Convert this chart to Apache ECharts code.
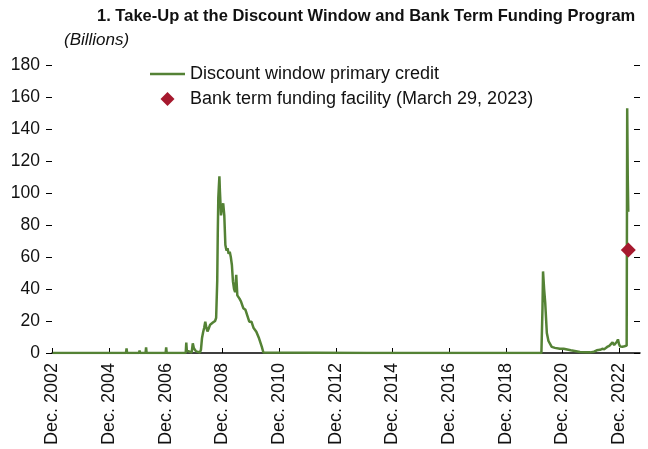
<!DOCTYPE html>
<html><head><meta charset="utf-8">
<script src="https://cdn.jsdelivr.net/npm/echarts@6/dist/echarts.min.js"></script>
<style>html,body{margin:0;padding:0;background:#fff}#c{width:648px;height:449px}</style>
</head><body><div id="c"></div>
<script>
// Discount window primary credit (billions)
const dwDates = [
  '2002-12-04','2003-06-04','2003-10-01','2003-10-08','2003-10-15','2004-02-04','2004-02-11','2004-02-18',
  '2005-07-06','2005-07-13','2005-07-20','2005-12-21','2005-12-28','2006-01-04','2006-02-08','2006-02-15','2006-02-22',
  '2006-03-15','2006-03-22','2006-03-29','2006-08-16','2006-08-23','2006-08-30','2006-11-29','2006-12-06','2006-12-13',
  '2007-05-30','2007-06-06','2007-06-13','2007-08-15','2007-08-22','2007-08-29','2007-09-12','2007-10-31','2007-11-14',
  '2007-11-28','2007-12-12','2007-12-26','2008-01-16','2008-02-13','2008-02-27','2008-03-12','2008-03-26','2008-04-09',
  '2008-04-23','2008-05-07','2008-05-21','2008-06-04','2008-06-25','2008-07-09','2008-07-30','2008-08-13','2008-08-27',
  '2008-09-10','2008-09-24','2008-10-01','2008-10-08','2008-10-15','2008-10-22','2008-10-29','2008-11-12','2008-11-26',
  '2008-12-10','2008-12-24','2009-01-07','2009-01-21','2009-02-04','2009-02-18','2009-03-04','2009-03-18','2009-04-01',
  '2009-04-15','2009-04-29','2009-05-13','2009-05-27','2009-06-10','2009-06-24','2009-07-08','2009-07-29','2009-08-26',
  '2009-09-23','2009-10-14','2009-11-11','2009-12-09','2010-01-06','2010-02-10','2010-03-17','2010-04-21','2010-05-12',
  '2010-06-02','2014-01-01','2020-03-04','2020-03-11','2020-03-18','2020-03-25','2020-04-08','2020-04-22','2020-05-13',
  '2020-06-03','2020-07-15','2020-08-26','2020-10-28','2020-12-16','2021-03-17','2021-07-14','2021-09-29','2021-11-24',
  '2022-01-12','2022-02-16','2022-03-30','2022-04-27','2022-05-25','2022-06-29','2022-07-27','2022-08-17','2022-09-07',
  '2022-09-28','2022-10-19','2022-11-02','2022-11-16','2022-11-30','2022-12-14','2023-01-11','2023-02-08','2023-03-08',
  '2023-03-15','2023-03-22','2023-03-29'
];
const dwValues = [
  0,0,0,0.5,0,0,0.4,0,
  0,2.9,0,0,1.6,0,0,1.0,0,
  0,3.5,0,0,1.0,0,0,3.5,0,
  0,1.0,0,0,6.5,1.5,0.5,0.3,6.0,
  3.0,4.0,1.0,0.5,0.3,2.0,9.4,13.0,15.8,
  19.6,15.8,13.5,15.0,17.7,17.0,19.0,19.6,20.0,
  22.0,45.0,75.0,97.0,104.0,110.5,100.8,86.0,92.0,
  93.5,86.0,67.5,64.0,65.4,62.0,63.3,60.0,55.0,
  44.6,40.0,38.0,48.8,36.0,35.0,34.0,32.0,28.0,
  27.0,25.8,19.6,19.6,15.6,13.3,9.2,4.0,0.3,
  0,0,0,0.1,28.0,51.0,40.0,31.5,12.5,
  7.5,3.8,3.2,2.6,2.6,1.7,0.6,0.5,0.4,
  0.8,1.7,2.0,2.6,2.4,3.8,4.5,5.5,6.7,
  5.0,5.3,7.0,8.5,5.5,4.0,3.9,4.2,4.6,
  152.9,110.2,88.2
];
// Bank term funding facility
const btfpDates = ['2023-03-29'];
const btfpValues = [64.4];
// Axes
const xTickDates = ['2002-12-01','2004-12-01','2006-12-01','2008-12-01','2010-12-01','2012-12-01',
                    '2014-12-01','2016-12-01','2018-12-01','2020-12-01','2022-12-01'];
const xStart = '2002-11-25', xEnd = '2023-08-27';
const yMin = 0, yMax = 180, yStep = 20;

const t = d => Date.parse(d + 'T00:00:00Z');
const FONT = "'Liberation Sans',Arial,sans-serif";
const GREEN = '#548235', RED = '#A6192E';
const xTicks = xTickDates.map(t);

const chart = echarts.init(document.getElementById('c'), null, {renderer: 'canvas'});
chart.setOption({
  animation: false,
  backgroundColor: '#fff',
  title: [
    {text: '1. Take-Up at the Discount Window and Bank Term Funding Program', left: 97, top: 8, padding: 0,
     textStyle: {fontFamily: FONT, fontSize: 16.5, fontWeight: 'bold', color: '#111'}},
    {text: '(Billions)', left: 64, top: 32, padding: 0,
     textStyle: {fontFamily: FONT, fontSize: 17, fontStyle: 'italic', fontWeight: 'normal', color: '#111'}}
  ],
  legend: {
    orient: 'vertical', left: 150, top: 65, padding: 0, itemGap: 7, itemWidth: 35, itemHeight: 14,
    textStyle: {fontFamily: FONT, fontSize: 18, color: '#111'},
    data: [
      {name: 'Discount window primary credit', icon: 'path://M0,0 L35,0 L35,2.5 L0,2.5 Z'},
      {name: 'Bank term funding facility (March 29, 2023)', icon: 'path://M7,0 L14,7 L7,14 L0,7 Z'}
    ]
  },
  grid: {left: 52, right: 8, top: 65, bottom: 96, containLabel: false, outerBoundsMode: 'none'},
  xAxis: {
    type: 'value', min: t(xStart), max: t(xEnd),
    axisLine: {show: true, onZero: false, lineStyle: {color: '#000', width: 1.5}},
    axisTick: {show: true, inside: true, length: 5, customValues: xTicks, lineStyle: {color: '#000', width: 1}},
    axisLabel: {show: true, rotate: 90, margin: 10, customValues: xTicks,
      fontFamily: FONT, fontSize: 18, color: '#111',
      formatter: v => 'Dec. ' + new Date(v).getUTCFullYear()},
    splitLine: {show: false}
  },
  yAxis: [
    {type: 'value', min: yMin, max: yMax, interval: yStep, position: 'left',
     axisLine: {show: false}, axisTick: {show: true, inside: false, length: 6, lineStyle: {color: '#000', width: 1}},
     axisLabel: {margin: 12, fontFamily: FONT, fontSize: 17.5, color: '#111'}, splitLine: {show: false}},
    {type: 'value', min: yMin, max: yMax, interval: yStep, position: 'right',
     axisLine: {show: false}, axisTick: {show: true, inside: true, length: 6, lineStyle: {color: '#000', width: 1}},
     axisLabel: {show: false}, splitLine: {show: false}}
  ],
  series: [
    {name: 'Discount window primary credit', type: 'line', symbol: 'none', showSymbol: false, z: 2,
     lineStyle: {color: GREEN, width: 2.5}, itemStyle: {color: GREEN},
     data: dwDates.map((d, i) => [t(d), dwValues[i]])},
    {name: 'Bank term funding facility (March 29, 2023)', type: 'scatter', symbol: 'diamond', symbolSize: 15, z: 3,
     itemStyle: {color: RED, opacity: 1},
     data: btfpDates.map((d, i) => [t(d), btfpValues[i]])}
  ]
});
</script></body></html>
